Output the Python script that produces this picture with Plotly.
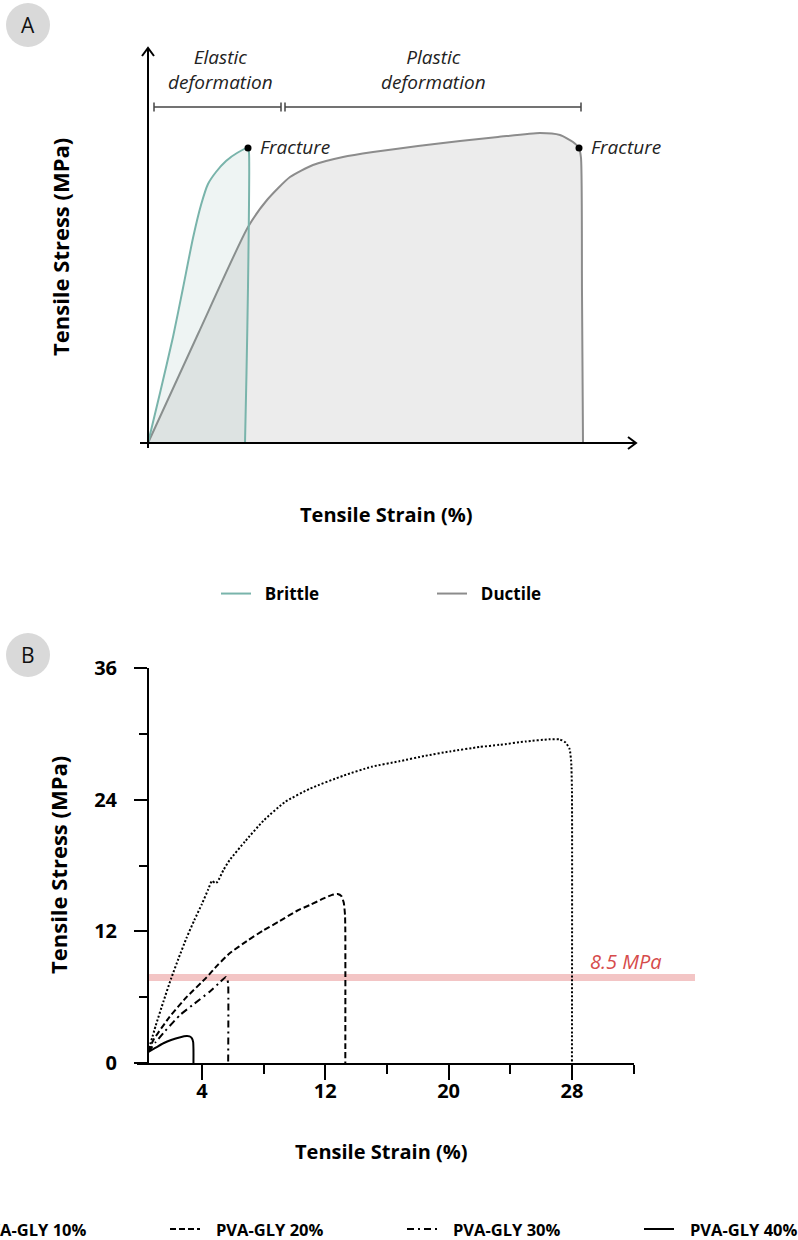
import plotly.graph_objects as go

W, H = 798, 1240

# ---------------- Panel A : schematic stress-strain curves ----------------
brittle_strain = [0, 1.2, 2.5, 3.5, 4.5, 5.3, 6.0, 6.8, 7.8, 8.9, 10.0, 10.1, 10.0, 9.85, 9.7]
brittle_stress = [0, 5.0, 10.6, 15.5, 20.5, 23.8, 25.9, 27.1, 28.2, 29.0, 29.5, 29.0, 15.6, 7.0, 0]

ductile_strain = [0, 5.0, 10.0, 11.9, 14.2, 16.5, 19.5, 22.5, 27.0, 31.2, 35.0, 39.2, 41.2, 42.5, 43.1, 43.3, 43.4, 43.5]
ductile_stress = [0, 10.9, 21.6, 24.3, 26.6, 27.8, 28.6, 29.1, 29.7, 30.2, 30.6, 31.0, 30.8, 30.1, 29.5, 28.5, 15.0, 0]

fracture_strain = [10.0, 43.1]
fracture_stress = [29.5, 29.5]
fracture_label = "Fracture"

stage_names = ["Elastic<br>deformation", "Plastic<br>deformation"]
stage_start = [0.6, 13.7]
stage_end = [13.3, 43.3]
stage_level = 33.6

legend_a_names = ["Brittle", "Ductile"]

# ---------------- Panel B : PVA-GLY films ----------------
strain_10 = [0.5, 1.0, 1.5, 2.0, 2.5, 3.0, 3.5, 4.0, 4.4, 4.65, 4.85, 5.0, 5.4, 5.8, 6.8, 8.0, 9.4, 11.0,
             13.2, 15.0, 16.8, 18.5, 20.1, 22.0, 23.3, 25.0, 26.5, 27.2, 27.6, 27.85, 27.95, 28.0, 28.0]
stress_10 = [1.0, 3.4, 5.6, 7.7, 9.6, 11.4, 13.0, 14.5, 15.8, 16.6, 16.4, 16.5, 17.6, 18.5, 20.2, 22.1, 23.8, 25.0,
             26.2, 27.0, 27.5, 28.0, 28.4, 28.8, 29.0, 29.3, 29.5, 29.5, 29.2, 28.6, 27.5, 25.0, 0.0]

strain_20 = [0.5, 0.85, 1.9, 3.0, 4.3, 5.0, 5.8, 7.0, 8.0, 9.0, 10.2, 11.0, 11.9, 12.4, 12.8, 13.05, 13.2, 13.28, 13.3, 13.3]
stress_20 = [1.0, 2.1, 4.2, 6.0, 7.8, 8.9, 10.0, 11.2, 12.1, 12.9, 13.9, 14.4, 15.0, 15.3, 15.4, 15.2, 14.6, 13.5, 12.0, 0.0]

strain_30 = [0.5, 1.0, 1.6, 2.6, 3.5, 4.5, 5.2, 5.56, 5.65, 5.7, 5.7]
stress_30 = [1.0, 1.9, 2.9, 4.4, 5.4, 6.5, 7.4, 7.85, 7.6, 7.2, 0.0]

strain_40 = [0.5, 1.0, 1.5, 2.0, 2.6, 3.0, 3.2, 3.35, 3.43, 3.45, 3.45]
stress_40 = [1.0, 1.4, 1.8, 2.1, 2.35, 2.45, 2.42, 2.25, 1.9, 1.2, 0.0]

series_names = ["PVA-GLY 10%", "PVA-GLY 20%", "PVA-GLY 30%", "PVA-GLY 40%"]
series_dash = ["2px,2px", "6px,3px", "7px,4px,2px,4px", "solid"]

threshold_level = 7.8
threshold_text = "8.5 MPa"

x_major = [4, 12, 20, 28]
x_minor = [8, 16, 24, 32]
y_major = [0, 12, 24, 36]
y_minor = [6, 18, 30]

axis_title_x = "Tensile Strain (%)"
axis_title_y = "Tensile Stress (MPa)"

# ---------------- helpers ----------------
def px_x(p):
    return p / W

def px_y(p):
    return 1 - p / H

FONT = "Open Sans"
TEAL = "#79b4ab"
GRAY = "#8c8c8c"

fig = go.Figure()

# Panel A traces
fig.add_trace(go.Scatter(x=ductile_strain, y=ductile_stress, mode="lines", fill="toself",
                         fillcolor="#ececec", line=dict(color=GRAY, width=2, shape="spline", smoothing=0.6),
                         showlegend=False, hoverinfo="skip", xaxis="x", yaxis="y"))
fig.add_trace(go.Scatter(x=brittle_strain, y=brittle_stress, mode="lines", fill="toself",
                         fillcolor="rgba(120,170,165,0.13)", line=dict(color=TEAL, width=2, shape="spline", smoothing=0.6),
                         showlegend=False, hoverinfo="skip", xaxis="x", yaxis="y"))
fig.add_trace(go.Scatter(x=fracture_strain, y=fracture_stress, mode="markers",
                         marker=dict(color="black", size=7), showlegend=False, hoverinfo="skip",
                         xaxis="x", yaxis="y", cliponaxis=False))
# legend-only entries for panel A
for nm, col in zip(legend_a_names, (TEAL, GRAY)):
    fig.add_trace(go.Scatter(x=[None], y=[None], mode="lines", line=dict(color=col, width=2),
                             name="\u00a0\u00a0" + nm, legend="legend", xaxis="x", yaxis="y"))

# Panel B traces
b_series = [(strain_10, stress_10), (strain_20, stress_20), (strain_30, stress_30), (strain_40, stress_40)]
for (sx, sy), name, dash in zip(b_series, series_names, series_dash):
    fig.add_trace(go.Scatter(x=sx, y=sy, mode="lines", name=name, showlegend=False,
                             line=dict(color="black", width=2, dash=dash, shape="spline", smoothing=0.5),
                             xaxis="x2", yaxis="y2", hoverinfo="skip"))

shapes = []
annotations = []

# Panel A axes with open arrowheads
ax_line = dict(color="black", width=2)
shapes.append(dict(type="line", xref="x", yref="y", x0=0, y0=-0.5, x1=0, y1=39.5, line=ax_line))
shapes.append(dict(type="line", xref="x", yref="y", x0=-0.8, y0=0, x1=48.8, y1=0, line=ax_line))
shapes.append(dict(type="path", xref="x", yref="y", path="M -0.6 38.7 L 0 39.5 L 0.6 38.7", line=ax_line))
shapes.append(dict(type="path", xref="x", yref="y", path="M 48.0 0.6 L 48.8 0 L 48.0 -0.6", line=ax_line))

# deformation stage brackets
br_line = dict(color="#444444", width=1.5)
for name, s0, s1 in zip(stage_names, stage_start, stage_end):
    shapes.append(dict(type="line", xref="x", yref="y", x0=s0, x1=s1, y0=stage_level, y1=stage_level, line=br_line))
    for s in (s0, s1):
        shapes.append(dict(type="line", xref="x", yref="y", x0=s, x1=s,
                           y0=stage_level - 0.45, y1=stage_level + 0.45, line=br_line))
    annotations.append(dict(xref="x", yref="y", x=(s0 + s1) / 2 + (0.3 if s0 < 1 else 0), y=stage_level + 3.7,
                            text=name, showarrow=False, xanchor="center", yanchor="middle",
                            font=dict(family=FONT, size=19, color="#222222", style="italic")))

for fx, fy in zip(fracture_strain, fracture_stress):
    annotations.append(dict(xref="x", yref="y", x=fx, y=fy, text=fracture_label, showarrow=False,
                            xanchor="left", yanchor="middle", xshift=10, yshift=1,
                            font=dict(family=FONT, size=19, color="#222222", style="italic")))

# Panel B threshold band
shapes.append(dict(type="line", xref="paper", yref="y2", x0=px_x(148), x1=px_x(695),
                   y0=threshold_level, y1=threshold_level, layer="below",
                   line=dict(color="rgba(232,140,140,0.5)", width=7)))
annotations.append(dict(xref="paper", yref="y2", x=px_x(664), y=threshold_level, yshift=16,
                        text=threshold_text, showarrow=False, xanchor="right", yanchor="middle",
                        font=dict(family=FONT, size=20, color="#d64b4b", style="italic")))

# Panel B legend (drawn manually so it can run past the left edge like the reference)
leg_y = px_y(1229)
for i, (name, dash) in enumerate(zip(series_names, series_dash)):
    s = -67 + 237 * i
    shapes.append(dict(type="line", xref="paper", yref="paper", x0=px_x(s), x1=px_x(s + 30),
                       y0=leg_y, y1=leg_y, line=dict(color="black", width=2, dash=dash)))
    annotations.append(dict(xref="paper", yref="paper", x=px_x(s + 44), y=leg_y, text=name,
                            showarrow=False, xanchor="left", yanchor="middle",
                            font=dict(family=FONT, size=16.5, color="black", weight="bold")))

# panel letters
for letter, cy in (("A", 25), ("B", 655)):
    shapes.append(dict(type="circle", xref="paper", yref="paper", x0=px_x(6), x1=px_x(50),
                       y0=px_y(cy + 22), y1=px_y(cy - 22), fillcolor="#d9d9d9", line=dict(width=0)))
    annotations.append(dict(xref="paper", yref="paper", x=px_x(28), y=px_y(cy), text=letter,
                            showarrow=False, xanchor="center", yanchor="middle",
                            font=dict(family=FONT, size=21, color="#111111")))

# axis titles
for (tx, ty, txt, ang, sz) in ((386, 514, axis_title_x, 0, 20), (60, 247, axis_title_y, -90, 22),
                               (381, 1151, axis_title_x, 0, 20), (58, 865, axis_title_y, -90, 22)):
    annotations.append(dict(xref="paper", yref="paper", x=px_x(tx), y=px_y(ty), text=txt,
                            showarrow=False, xanchor="center", yanchor="middle", textangle=ang,
                            font=dict(family=FONT, size=sz, color="black", weight="bold")))

tick_font = dict(family=FONT, size=20, color="black", weight="bold")

fig.update_layout(
    width=W, height=H,
    margin=dict(l=0, r=0, t=0, b=0, autoexpand=False),
    paper_bgcolor="white", plot_bgcolor="rgba(0,0,0,0)",
    font=dict(family=FONT, color="black"),
    xaxis=dict(domain=[px_x(138), px_x(638)], range=[-1, 49], visible=False, anchor="y"),
    yaxis=dict(domain=[px_y(453), px_y(43)], range=[-1, 40], visible=False, anchor="x"),
    xaxis2=dict(domain=[px_x(137.2), px_x(633.6)], range=[-0.2, 32], anchor="y2",
                showline=True, linecolor="black", linewidth=2, showgrid=False, zeroline=False,
                ticks="outside", tickvals=x_major, ticktext=[str(v) for v in x_major],
                ticklen=15, tickwidth=2, tickcolor="black", tickfont=tick_font, ticklabelstandoff=-6,
                minor=dict(tickvals=x_minor, ticks="outside", ticklen=9, tickwidth=2, tickcolor="black",
                           showgrid=False)),
    yaxis2=dict(domain=[px_y(1063), px_y(668)], range=[0, 36], anchor="free", position=px_x(148),
                showline=True, linecolor="black", linewidth=2, showgrid=False, zeroline=False,
                ticks="outside", tickvals=y_major, ticktext=[str(v) for v in y_major],
                ticklen=13, tickwidth=2, tickcolor="black", tickfont=tick_font, ticklabelstandoff=13,
                minor=dict(tickvals=y_minor, ticks="outside", ticklen=8, tickwidth=2, tickcolor="black",
                           showgrid=False)),
    legend=dict(orientation="h", x=px_x(216), y=px_y(594), xanchor="left", yanchor="middle",
                entrywidth=171, entrywidthmode="pixels", itemwidth=30, bgcolor="rgba(0,0,0,0)",
                font=dict(family=FONT, size=17, color="black", weight="bold")),
    shapes=shapes, annotations=annotations,
)

fig.write_html("out.html", config={"displayModeBar": False},
               post_script="document.body.style.margin='0';")
